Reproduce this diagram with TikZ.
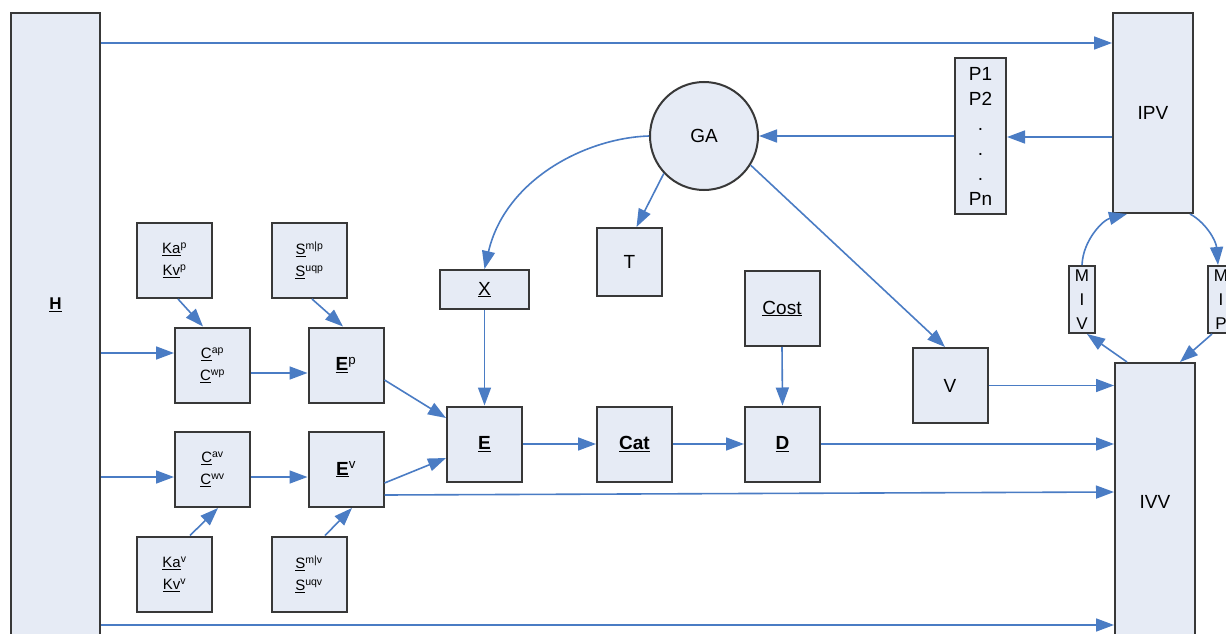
\documentclass[tikz,border=0pt]{standalone}
\usepackage{fontspec}
\setmainfont{Liberation Sans}
\usetikzlibrary{arrows.meta}
\definecolor{boxfill}{HTML}{E6EBF5}
\definecolor{boxline}{HTML}{383838}
\definecolor{arrowblue}{HTML}{4A7CC4}
\begin{document}
\begin{tikzpicture}[x=1pt,y=-1pt,
  box/.style={draw=boxline, fill=boxfill, line width=2pt, inner sep=0pt, align=center,
              font=\fontsize{19}{23}\selectfont},
  sq/.style={minimum width=75pt, minimum height=75pt},
  small/.style={font=\fontsize{15}{22}\selectfont},
  tall/.style={font=\fontsize{17}{24}\selectfont},
  arr/.style={draw=arrowblue, line width=1.6pt, -{Triangle[length=18pt,width=13pt]}}]
\useasboundingbox (0,0) rectangle (1226,634);
\fill[white] (0,0) rectangle (1226,634);
\clip (0,0) rectangle (1226,634);

% big boxes
\node[box, minimum width=89pt, minimum height=627pt,
      label={[yshift=21.5pt, font=\fontsize{17}{20}\selectfont]center:\underline{\textbf{H}}}] (H) at (55.5,326.5) {};
\node[box, minimum width=80pt, minimum height=200pt] (IPV) at (1153,113) {IPV};
\node[box, minimum width=80pt, minimum height=277pt] (IVV) at (1155,501.5) {IVV};
\node[box, minimum width=51pt, minimum height=156pt, font=\fontsize{19}{25}\selectfont] (P) at (980.5,136) {P1\\P2\\.\\.\\.\\Pn};
\node[box, circle, minimum size=108pt] (GA) at (704,136) {GA};
\node[box, tall, minimum width=26pt, minimum height=67pt] (MIV) at (1082,299.5) {M\\I\\V};
\node[box, tall, minimum width=26pt, minimum height=67pt] (MIP) at (1221,299.5) {M\\I\\P};

% middle row
\node[box, minimum width=65pt, minimum height=68pt] (T) at (629.5,262) {T};
\node[box, minimum width=89pt, minimum height=39pt] (X) at (484.5,289.5) {\underline{X}};
\node[box, sq] (E) at (484.5,444) {\underline{\textbf{E}}};
\node[box, sq] (Cat) at (634.5,444) {\underline{\textbf{Cat}}};
\node[box, sq] (D) at (782.5,444) {\underline{\textbf{D}}};
\node[box, sq] (Cost) at (782,308.5) {\underline{Cost}};
\node[box, sq] (V) at (950,385.5) {V};

% left cluster
\node[box, sq, small] (Kap) at (174.5,260.5) {\underline{Ka}\textsuperscript{p}\\\underline{Kv}\textsuperscript{p}};
\node[box, sq, small] (Sp) at (309.5,260.5) {\underline{S}\textsuperscript{m|p}\\\underline{S}\textsuperscript{uqp}};
\node[box, sq, small] (Cp) at (212.5,365) {\underline{C}\textsuperscript{ap}\\\underline{C}\textsuperscript{wp}};
\node[box, sq] (Ep) at (346,365) {\underline{\textbf{E}}\textsuperscript{p}};
\node[box, sq, small] (Cv) at (212.5,469.5) {\underline{C}\textsuperscript{av}\\\underline{C}\textsuperscript{wv}};
\node[box, sq] (Ev) at (346,469.5) {\underline{\textbf{E}}\textsuperscript{v}};
\node[box, sq, small] (Kav) at (174.5,574) {\underline{Ka}\textsuperscript{v}\\\underline{Kv}\textsuperscript{v}};
\node[box, sq, small] (Sv) at (309,574) {\underline{S}\textsuperscript{m|v}\\\underline{S}\textsuperscript{uqv}};

% connectors
\draw[arr] (H.east |- 0,43) -- (IPV.west |- 0,43);
\draw[arr] (IPV.west |- 0,137) -- (P.east |- 0,137);
\draw[arr] (P.west |- 0,136) -- (GA.east);
\draw[arr] (GA.223) -- ([xshift=7pt]T.north);
\draw[arr] (GA.west) .. controls (585,138) and (505,180) .. (X.north);
\draw[arr] (GA.-32) -- ([xshift=-5pt]V.north);
\draw[arr] (X.south) -- (E.north);
\draw[arr] (E.east) -- (Cat.west);
\draw[arr] (Cat.east) -- (D.west);
\draw[arr] (Cost.south) -- (D.north);
\draw[arr] (D.east) -- (D.east -| IVV.west);
\draw[arr] (V.east) -- (V.east -| IVV.west);
\draw[arr] (Ev.east |- 0,495) -- (IVV.west |- 0,492);
\draw[arr] (H.east |- 0,625) -- (IVV.west |- 0,625);

\draw[arr] (H.east |- 0,353) -- (Cp.west |- 0,353);
\draw[arr] (Cp.east |- 0,373) -- (Ep.west |- 0,373);
\draw[arr] (H.east |- 0,477) -- (Cv.west |- 0,477);
\draw[arr] (Cv.east |- 0,477) -- (Ev.west |- 0,477);
\draw[arr] (Ep.east |- 0,380) -- (E.west |- 0,418);
\draw[arr] (Ev.east |- 0,483) -- (E.west |- 0,458);
\draw[arr] ([xshift=3.5pt]Kap.south) -- ([xshift=-9.5pt]Cp.north);
\draw[arr] ([xshift=2.5pt]Sp.south) -- ([xshift=-3pt]Ep.north);
\draw[arr] ([xshift=15.5pt]Kav.north) -- ([xshift=5.5pt]Cv.south);
\draw[arr] ([xshift=16pt]Sv.north) -- ([xshift=6pt]Ev.south);

\draw[arr] ([xshift=-28pt]IVV.north) -- ([xshift=5pt]MIV.south);
\draw[arr] (MIV.north) .. controls (1083,240) and (1103,220) .. ([xshift=-26pt]IPV.south);
\draw[arr] ([xshift=37pt]IPV.south) .. controls (1205,222) and (1216,240) .. ([xshift=-3pt]MIP.north);
\draw[arr] ([xshift=-9pt]MIP.south) -- ([xshift=25pt]IVV.north);
\end{tikzpicture}
\end{document}
